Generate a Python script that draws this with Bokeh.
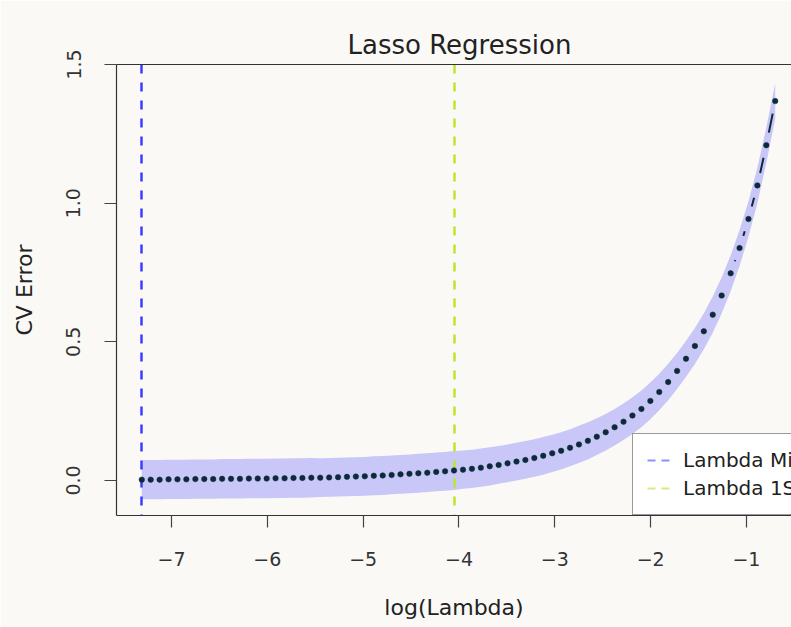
import math
from bokeh.plotting import figure
from bokeh.models import (Range1d, FixedTicker, LinearAxis, Legend, LegendItem,
                          PrintfTickFormatter)
from bokeh.embed import file_html
from bokeh.resources import INLINE

# ---- data ----
log_lambda = [-7.310, -7.217, -7.124, -7.031, -6.938, -6.845, -6.751, -6.658, -6.565, -6.472,
              -6.379, -6.286, -6.193, -6.100, -6.007, -5.914, -5.820, -5.727, -5.634, -5.541,
              -5.448, -5.355, -5.262, -5.169, -5.076, -4.983, -4.889, -4.796, -4.703, -4.610,
              -4.517, -4.424, -4.331, -4.238, -4.145, -4.052, -3.958, -3.865, -3.772, -3.679,
              -3.586, -3.493, -3.400, -3.307, -3.214, -3.121, -3.027, -2.934, -2.841, -2.748,
              -2.655, -2.562, -2.469, -2.376, -2.283, -2.190, -2.096, -2.003, -1.910, -1.817,
              -1.724, -1.631, -1.538, -1.445, -1.352, -1.259, -1.165, -1.072, -0.979, -0.886,
              -0.793, -0.700]
cv_error = [0.003, 0.003, 0.003, 0.004, 0.004, 0.004, 0.005, 0.005, 0.005, 0.006,
            0.006, 0.006, 0.007, 0.007, 0.007, 0.008, 0.008, 0.009, 0.009, 0.010,
            0.010, 0.011, 0.012, 0.013, 0.014, 0.015, 0.017, 0.018, 0.020, 0.022,
            0.024, 0.026, 0.028, 0.031, 0.033, 0.036, 0.039, 0.042, 0.046, 0.051,
            0.056, 0.062, 0.068, 0.074, 0.081, 0.089, 0.098, 0.107, 0.118, 0.130,
            0.143, 0.158, 0.174, 0.192, 0.212, 0.234, 0.258, 0.287, 0.319, 0.355,
            0.395, 0.439, 0.485, 0.538, 0.598, 0.667, 0.747, 0.838, 0.943, 1.064,
            1.209, 1.368]
cv_sd = [0.071, 0.071, 0.071, 0.071, 0.071, 0.071, 0.071, 0.071, 0.071, 0.071,
         0.071, 0.071, 0.071, 0.071, 0.071, 0.071, 0.071, 0.071, 0.071, 0.071,
         0.070, 0.070, 0.070, 0.070, 0.070, 0.070, 0.070, 0.070, 0.070, 0.070,
         0.070, 0.070, 0.070, 0.070, 0.070, 0.070, 0.069, 0.069, 0.069, 0.069,
         0.068, 0.068, 0.068, 0.068, 0.068, 0.068, 0.067, 0.067, 0.067, 0.067,
         0.067, 0.066, 0.066, 0.066, 0.066, 0.066, 0.066, 0.066, 0.066, 0.066,
         0.065, 0.065, 0.065, 0.065, 0.065, 0.065, 0.065, 0.065, 0.064, 0.064,
         0.064, 0.064]
lambda_min_log = -7.310
lambda_1se_log = -4.052
title_text = "Lasso Regression"
legend_labels = ["Lambda Min", "Lambda 1SE"]
x_ticks = [-7, -6, -5, -4, -3, -2, -1]
y_ticks = [0.0, 0.5, 1.0, 1.5]

# ---- style ----
BG = "#FAF9F6"
FONT = "DejaVu Sans"
DOT = "#0c2a3a"
X_RANGE = (-7.574, -0.530)
Y_RANGE = (-0.1263, 1.5)
W, H = 791, 627
BL, BB, BT, BR = 116, 112, 64, 0

upper = [c + s for c, s in zip(cv_error, cv_sd)]
lower = [c - s for c, s in zip(cv_error, cv_sd)]

p = figure(width=W, height=H, output_backend="svg", toolbar_location=None,
           x_range=Range1d(*X_RANGE), y_range=Range1d(*Y_RANGE),
           min_border_left=BL, min_border_bottom=BB, min_border_top=BT,
           min_border_right=BR, background_fill_color=BG, border_fill_color=BG,
           outline_line_color=None, title=title_text)
p.grid.visible = False

p.title.text_font = FONT
p.title.text_font_size = "26px"
p.title.text_font_style = "normal"
p.title.text_color = "#222222"
p.title.align = "left"
p.title.offset = 231
p.title.standoff = 10

# band
p.varea(x=log_lambda, y1=lower, y2=upper, fill_color="blue", fill_alpha=0.2)

# vertical lambda lines
p.vspan(x=[lambda_min_log], line_color="#3d3dff", line_width=2.5, line_dash="9 9")
p.vspan(x=[lambda_1se_log], line_color="#bde62a", line_width=2.5, line_dash="9 9")

# connecting line like R type="b": segments with gaps around points
sx = (W - BL - BR) / (X_RANGE[1] - X_RANGE[0])
sy = (H - BB - BT) / (Y_RANGE[1] - Y_RANGE[0])
gap = 12.8
x0s, y0s, x1s, y1s = [], [], [], []
for i in range(len(log_lambda) - 1):
    dx = (log_lambda[i + 1] - log_lambda[i]) * sx
    dy = (cv_error[i + 1] - cv_error[i]) * sy
    d = math.hypot(dx, dy)
    if d > 2 * gap:
        ux, uy = dx / d, dy / d
        x0s.append(log_lambda[i] + ux * gap / sx)
        y0s.append(cv_error[i] + uy * gap / sy)
        x1s.append(log_lambda[i + 1] - ux * gap / sx)
        y1s.append(cv_error[i + 1] - uy * gap / sy)
p.segment(x0=x0s, y0=y0s, x1=x1s, y1=y1s, line_color=DOT, line_width=2)

p.scatter(x=log_lambda, y=cv_error, size=5.5, fill_color=DOT, line_color=DOT, line_width=0.5)

# axes
for ax in (p.xaxis[0], p.yaxis[0]):
    ax.axis_line_color = "#333333"
    ax.axis_line_width = 1.2
    ax.major_tick_line_color = "#444444"
    ax.major_tick_line_width = 1.2
    ax.major_tick_out = 12
    ax.major_tick_in = 0
    ax.minor_tick_line_color = None
    ax.major_label_text_font = FONT
    ax.major_label_text_font_size = "19px"
    ax.major_label_text_color = "#333333"
    ax.axis_label_text_font = FONT
    ax.axis_label_text_font_size = "22px"
    ax.axis_label_text_font_style = "normal"
    ax.axis_label_text_color = "#222222"

p.xaxis[0].ticker = FixedTicker(ticks=x_ticks)
p.xaxis[0].major_label_overrides = {t: "\u2212" + str(abs(t)) for t in x_ticks}
p.xaxis[0].axis_label = "log(Lambda)"
p.xaxis[0].major_label_standoff = 24
p.xaxis[0].axis_label_standoff = 26

p.yaxis[0].ticker = FixedTicker(ticks=y_ticks)
p.yaxis[0].formatter = PrintfTickFormatter(format="%.1f")
p.yaxis[0].major_label_orientation = "vertical"
p.yaxis[0].axis_label = "CV Error"
p.yaxis[0].major_label_standoff = 24
p.yaxis[0].axis_label_standoff = 27

top = LinearAxis(ticker=FixedTicker(ticks=[]), axis_line_color="#333333",
                 axis_line_width=1.2, major_tick_line_color=None,
                 minor_tick_line_color=None, major_label_text_font_size="0px")
p.add_layout(top, "above")

# legend with placeholder renderers (no visible marks in the plot)
nan = float("nan")
r_min = p.line(x=[nan, nan], y=[nan, nan], line_color="#8f8fff", line_width=2, line_dash="8 6")
r_1se = p.line(x=[nan, nan], y=[nan, nan], line_color="#d2ef78", line_width=2, line_dash="8 6")
legend = Legend(items=[LegendItem(label=legend_labels[0], renderers=[r_min]),
                       LegendItem(label=legend_labels[1], renderers=[r_1se])],
                location=(516, 0), background_fill_color="white",
                background_fill_alpha=1.0, border_line_color="#333333",
                border_line_width=1.2, label_text_font=FONT,
                label_text_font_size="20px", label_text_color="#222222",
                glyph_width=24, glyph_height=24, label_height=24,
                spacing=4, padding=14, label_standoff=12, margin=0)
p.add_layout(legend, "center")

open("out.html", "w").write(file_html(p, INLINE))
